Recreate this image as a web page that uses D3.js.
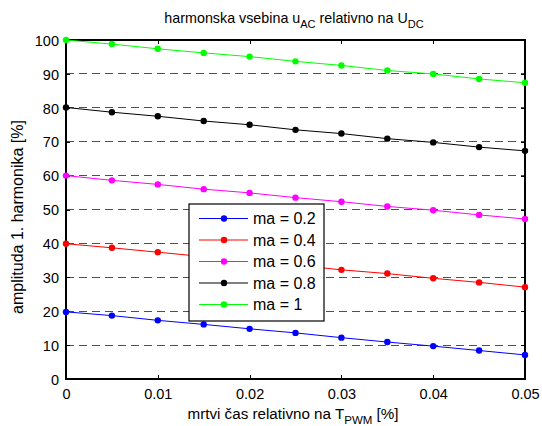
<!DOCTYPE html>
<html><head><meta charset="utf-8">
<script src="https://cdn.jsdelivr.net/npm/d3@7"></script>
<style>
html,body{margin:0;padding:0;background:#fff;}
text{font-family:"Liberation Sans",Arial,Helvetica,sans-serif;fill:#000;}
</style></head>
<body>
<svg id="chart" width="542" height="426"></svg>
<script>
const deadTime = [0, 0.005, 0.01, 0.015, 0.02, 0.025, 0.03, 0.035, 0.04, 0.045, 0.05];
const seriesNames = ["ma = 0.2", "ma = 0.4", "ma = 0.6", "ma = 0.8", "ma = 1"];
const seriesColors = ["#0000ff", "#ff0000", "#ff00ff", "#000000", "#00ff00"];
const ma02 = [19.8, 18.7, 17.3, 16.1, 14.8, 13.6, 12.2, 10.9, 9.7, 8.4, 7.1];
const ma04 = [39.9, 38.7, 37.4, 36.1, 35.0, 33.6, 32.2, 31.1, 29.7, 28.5, 27.1];
const ma06 = [60.0, 58.6, 57.4, 56.0, 54.9, 53.5, 52.3, 50.9, 49.8, 48.4, 47.2];
const ma08 = [80.1, 78.7, 77.5, 76.1, 75.0, 73.5, 72.4, 70.9, 69.8, 68.4, 67.3];
const ma10 = [100.0, 98.8, 97.4, 96.2, 95.1, 93.7, 92.5, 91.0, 90.0, 88.5, 87.4];
const seriesValues = [ma02, ma04, ma06, ma08, ma10];
const xTicks = [0, 0.01, 0.02, 0.03, 0.04, 0.05];
const xTickLabels = ["0", "0.01", "0.02", "0.03", "0.04", "0.05"];
const yTicks = [0, 10, 20, 30, 40, 50, 60, 70, 80, 90, 100];

const svg = d3.select("#chart");
const L = 66, R = 525, T = 40, B = 379;
const x = d3.scaleLinear().domain([0, 0.05]).range([L, R]);
const y = d3.scaleLinear().domain([0, 100]).range([B, T]);

// grid (horizontal dashed)
svg.append("g").selectAll("line").data(yTicks.filter(v => v > 0 && v < 100)).join("line")
  .attr("x1", L).attr("x2", R).attr("y1", d => y(d)).attr("y2", d => y(d))
  .attr("stroke", "#505050").attr("stroke-width", 1).attr("stroke-dasharray", "8,5")
  .attr("shape-rendering", "crispEdges");

// axes
const fs = "14.5px";
const gx = svg.append("g").attr("transform", `translate(0,${B})`)
  .call(d3.axisBottom(x).tickValues(xTicks).tickFormat((d, i) => xTickLabels[i]).tickSizeInner(-4).tickSizeOuter(0).tickPadding(10));
const gxt = svg.append("g").attr("transform", `translate(0,${T})`)
  .call(d3.axisTop(x).tickValues(xTicks).tickFormat("").tickSizeInner(-4).tickSizeOuter(0));
const gy = svg.append("g").attr("transform", `translate(${L},0)`)
  .call(d3.axisLeft(y).tickValues(yTicks).tickSizeInner(-4).tickSizeOuter(0).tickPadding(7));
const gyr = svg.append("g").attr("transform", `translate(${R},0)`)
  .call(d3.axisRight(y).tickValues(yTicks).tickFormat("").tickSizeInner(-4).tickSizeOuter(0));
[gx, gxt, gy, gyr].forEach(g => {
  g.selectAll("path").remove();
  g.selectAll("line").attr("stroke", "#000").attr("shape-rendering", "crispEdges");
  g.selectAll("text").style("font-size", fs).attr("fill", "#000").style("font-family", "'Liberation Sans',Arial,sans-serif");
});
gy.selectAll("text").attr("dy", "0.36em");

// frame
svg.append("rect").attr("x", L).attr("y", T).attr("width", R - L).attr("height", B - T)
  .attr("fill", "none").attr("stroke", "#000").attr("stroke-width", 1.2).attr("shape-rendering", "crispEdges");

// series
const line = d3.line().x((d, i) => x(deadTime[i])).y(d => y(d));
const sg = svg.append("g");
seriesValues.forEach((vals, k) => {
  sg.append("path").attr("d", line(vals)).attr("fill", "none")
    .attr("stroke", seriesColors[k]).attr("stroke-width", 1);
  sg.selectAll(null).data(vals).join("circle")
    .attr("cx", (d, i) => x(deadTime[i])).attr("cy", d => y(d)).attr("r", 3.2)
    .attr("fill", seriesColors[k]);
});

// legend
const lg = svg.append("g");
const lx = 189, ly = 204, lw = 135, lh = 117;
lg.append("rect").attr("x", lx).attr("y", ly).attr("width", lw).attr("height", lh)
  .attr("fill", "#fff").attr("stroke", "#000").attr("stroke-width", 1.2);
seriesNames.forEach((name, k) => {
  const yy = 218.5 + k * 21.5;
  lg.append("line").attr("x1", 199).attr("x2", 248).attr("y1", yy).attr("y2", yy)
    .attr("stroke", seriesColors[k]).attr("stroke-width", 1);
  lg.append("circle").attr("cx", 224).attr("cy", yy).attr("r", 3.2).attr("fill", seriesColors[k]);
  lg.append("text").attr("x", 253).attr("y", yy).attr("dy", "0.36em")
    .style("font-size", "16px").text(name);
});

// title
const title = svg.append("text").attr("x", 294).attr("y", 23).attr("text-anchor", "middle").style("font-size", "14.3px");
title.append("tspan").text("harmonska vsebina u");
title.append("tspan").attr("dy", 5).style("font-size", "11px").text("AC");
title.append("tspan").attr("dy", -5).text(" relativno na U");
title.append("tspan").attr("dy", 5).style("font-size", "11px").text("DC");

// x label
const xl = svg.append("text").attr("x", 293).attr("y", 419).attr("text-anchor", "middle").style("font-size", "15.2px");
xl.append("tspan").text("mrtvi čas relativno na T");
xl.append("tspan").attr("dy", 5).style("font-size", "11.5px").text("PWM");
xl.append("tspan").attr("dy", -5).text(" [%]");

// y label
svg.append("text").attr("transform", `translate(23,217) rotate(-90)`)
  .attr("text-anchor", "middle").style("font-size", "16px").text("amplituda 1. harmonika [%]");
</script>
</body></html>
